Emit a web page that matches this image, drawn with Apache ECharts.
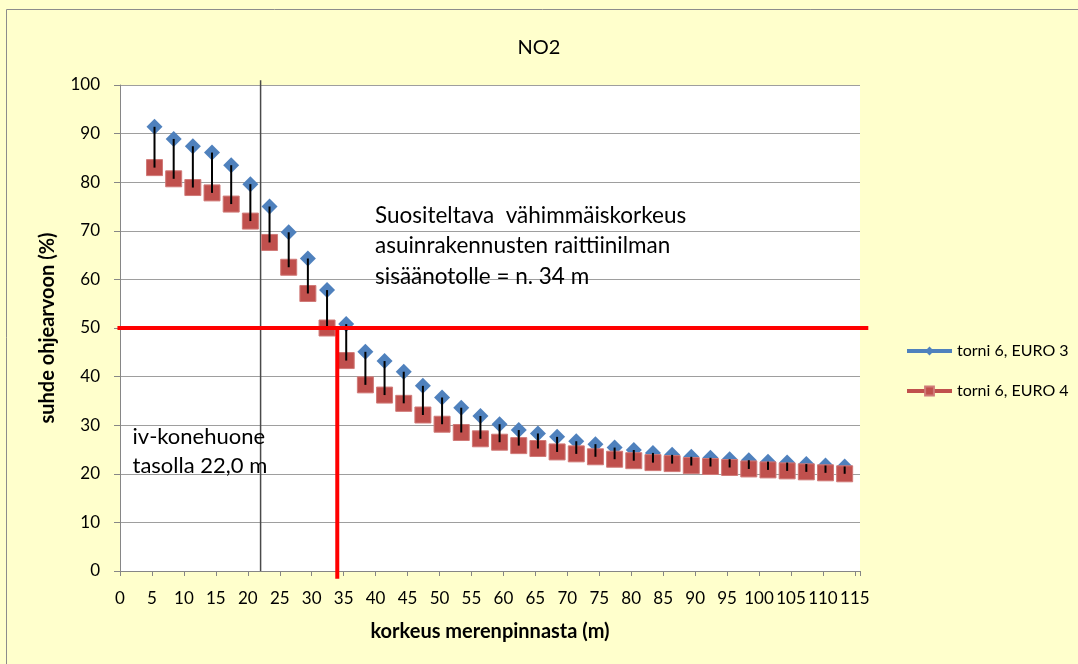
<!DOCTYPE html>
<html>
<head>
<meta charset="utf-8">
<script src="https://cdn.jsdelivr.net/npm/echarts@6/dist/echarts.min.js"></script>
<style>
  html, body { margin: 0; padding: 0; background: #FFFFCC; }
  #chart { width: 1078px; height: 664px; }
</style>
</head>
<body>
<div id="chart"></div>
<script>
// Heights above sea level (m) at which the NO2 concentration was evaluated
const heights = [5.4, 8.4, 11.4, 14.4, 17.4, 20.4, 23.4, 26.4, 29.4, 32.4,
                 35.4, 38.4, 41.4, 44.4, 47.4, 50.4, 53.4, 56.4, 59.4, 62.4,
                 65.4, 68.4, 71.4, 74.4, 77.4, 80.4, 83.4, 86.4, 89.4, 92.4,
                 95.4, 98.4, 101.4, 104.4, 107.4, 110.4, 113.4];

// Ratio to the guideline value (%), tower 6
const euro3 = [91.4, 88.9, 87.4, 86.1, 83.5, 79.6, 75.0, 69.7, 64.3, 57.8,
               50.8, 45.1, 43.2, 41.0, 38.1, 35.7, 33.6, 31.9, 30.2, 29.0,
               28.3, 27.6, 26.7, 26.1, 25.4, 24.9, 24.3, 23.9, 23.5, 23.3,
               23.0, 22.8, 22.5, 22.3, 22.0, 21.7, 21.5];
const euro4 = [83.0, 80.7, 78.9, 77.8, 75.5, 72.0, 67.6, 62.5, 57.1, 50.0,
               43.3, 38.3, 36.2, 34.5, 32.1, 30.2, 28.5, 27.2, 26.5, 25.8,
               25.2, 24.5, 24.1, 23.5, 23.0, 22.7, 22.3, 22.1, 21.7, 21.5,
               21.3, 21.0, 20.8, 20.6, 20.4, 20.2, 20.0];

const seriesNames = ['torni 6, EURO 3', 'torni 6, EURO 4'];

// Reference lines: guideline 50 %, recommended intake height 34 m, machine room level 22 m
const guidelineLine = [[-0.4, 50, 117.1, 50]];
const recommendedLine = [[34, 50, 34, -1.6]];
const machineRoomLine = [[22, 0, 22, 101]];

const FONT = 'Lato';

const chart = echarts.init(document.getElementById('chart'), null, { renderer: 'canvas' });

function segmentSeries(data, color, width, z) {
  return {
    type: 'custom',
    silent: true,
    clip: false,
    z: z,
    data: data,
    renderItem: function (params, api) {
      const p1 = api.coord([api.value(0), api.value(1)]);
      const p2 = api.coord([api.value(2), api.value(3)]);
      return {
        type: 'line',
        shape: { x1: p1[0], y1: p1[1], x2: p2[0], y2: p2[1] },
        style: { stroke: color, lineWidth: width }
      };
    }
  };
}

const option = {
  backgroundColor: '#FFFFCC',
  animation: false,
  title: {
    text: 'NO2',
    left: 'center',
    top: 33,
    textStyle: { fontFamily: FONT, fontSize: 20, fontWeight: 'normal', color: '#000' }
  },
  legend: {
    orient: 'vertical',
    left: 905,
    top: 343,
    padding: 0,
    itemWidth: 45,
    itemHeight: 11,
    itemGap: 24,
    data: seriesNames,
    lineStyle: { width: 4, opacity: 1 },
    textStyle: { fontFamily: FONT, fontSize: 16, color: '#000' }
  },
  grid: {
    left: 120, right: 218, top: 85, bottom: 93,
    show: true, backgroundColor: '#FFFFFF', borderWidth: 0
  },
  xAxis: {
    type: 'value',
    min: 0, max: 115.8, interval: 5,
    name: 'korkeus merenpinnasta (m)',
    nameLocation: 'middle',
    nameGap: 51,
    nameTextStyle: { fontFamily: FONT, fontSize: 20, fontWeight: 'bold', color: '#000' },
    axisLine: { lineStyle: { color: '#868686', width: 1 } },
    axisTick: { length: 5, lineStyle: { color: '#868686' } },
    axisLabel: {
      margin: 19, fontFamily: FONT, fontSize: 17, color: '#000',
      formatter: function (v) { return v % 5 === 0 ? String(v) : ''; }
    },
    splitLine: { show: false }
  },
  yAxis: {
    type: 'value',
    min: 0, max: 100, interval: 10,
    name: 'suhde ohjearvoon (%)',
    nameLocation: 'middle',
    nameGap: 62,
    nameTextStyle: { fontFamily: FONT, fontSize: 20, fontWeight: 'bold', color: '#000' },
    axisLine: { show: true, lineStyle: { color: '#868686', width: 1 } },
    axisTick: { show: true, length: 6, lineStyle: { color: '#868686' } },
    axisLabel: { margin: 20, fontFamily: FONT, fontSize: 17, color: '#000' },
    splitLine: { lineStyle: { color: '#9E9E9E', width: 1 } }
  },
  graphic: [
    {
      type: 'rect', silent: true, z: 100,
      shape: { x: 6.5, y: 9.5, width: 1200, height: 800 },
      style: { fill: 'none', stroke: '#8C8C8C', lineWidth: 1 }
    },
    {
      type: 'text', left: 375, top: 200, silent: true, z: 100,
      style: {
        text: 'Suositeltava  vähimmäiskorkeus\nasuinrakennusten raittiinilman\nsisäänotolle = n. 34 m',
        font: '22.5px ' + FONT, fill: '#000', lineHeight: 30.5
      }
    },
    {
      type: 'text', left: 132.5, top: 423, silent: true, z: 100,
      style: {
        text: 'iv-konehuone\ntasolla 22,0 m',
        font: '22px ' + FONT, fill: '#000', lineHeight: 28.5
      }
    }
  ],
  series: [
    segmentSeries(machineRoomLine, '#4A4A4A', 1.5, 1),
    {
      name: seriesNames[0],
      type: 'line',
      z: 2,
      data: heights.map((h, i) => [h, euro3[i]]),
      symbol: 'diamond',
      symbolSize: 16,
      showAllSymbol: true,
      itemStyle: { color: '#4F81BD' },
      lineStyle: { color: '#4F81BD', width: 3, opacity: 0 },
      emphasis: { disabled: true },
      silent: true
    },
    {
      name: seriesNames[1],
      type: 'line',
      z: 3,
      data: heights.map((h, i) => [h, euro4[i]]),
      symbol: 'rect',
      symbolSize: 16,
      showAllSymbol: true,
      itemStyle: { color: '#C0504D', borderColor: '#D07A78', borderWidth: 1 },
      lineStyle: { color: '#C0504D', width: 3, opacity: 0 },
      emphasis: { disabled: true },
      silent: true
    },
    // High-low lines joining the two scenarios at each height
    {
      type: 'custom',
      silent: true,
      z: 4,
      data: heights.map((h, i) => [h, euro3[i], euro4[i]]),
      renderItem: function (params, api) {
        const top = api.coord([api.value(0), api.value(1)]);
        const bottom = api.coord([api.value(0), api.value(2)]);
        return {
          type: 'line',
          shape: { x1: top[0], y1: top[1], x2: bottom[0], y2: bottom[1] },
          style: { stroke: '#000000', lineWidth: 2 }
        };
      }
    },
    segmentSeries(guidelineLine, '#FF0000', 4, 5),
    segmentSeries(recommendedLine, '#FF0000', 4, 5)
  ]
};

chart.setOption(option);
</script>
</body>
</html>
